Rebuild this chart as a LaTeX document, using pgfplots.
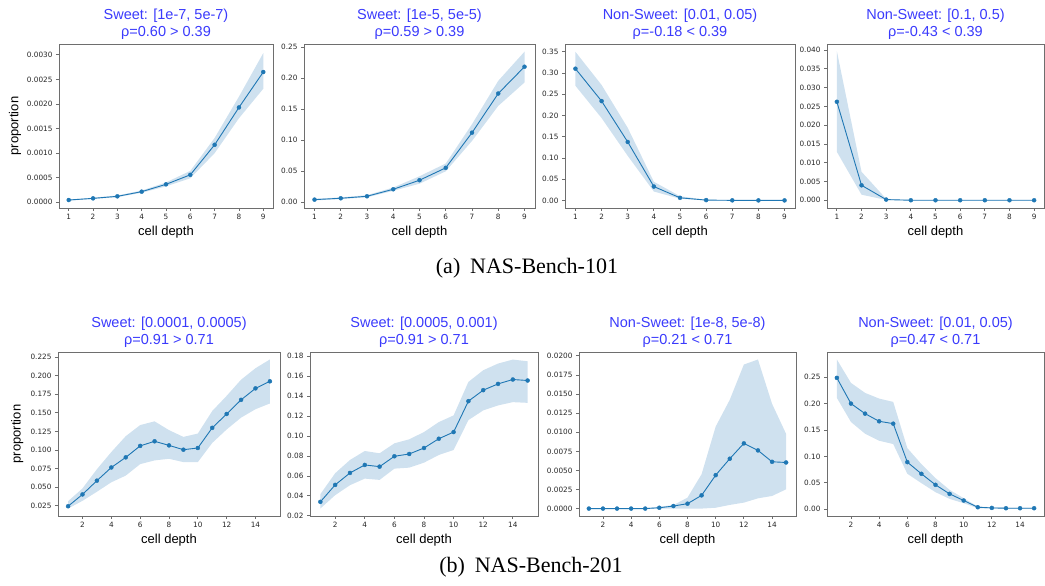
\documentclass[border=0pt]{standalone}
\usepackage{pgfplots}
\pgfplotsset{compat=1.18}
\usepackage{pgfplotstable}
\usepackage{fontspec}
\setmainfont{Liberation Sans}
\newfontfamily\tickfont{DejaVu Sans}
\newfontfamily\capfont{Liberation Serif}

\definecolor{c0}{HTML}{1F77B4}
\definecolor{bandc}{RGB}{207,225,239}
\definecolor{ttl}{RGB}{58,58,252}
\definecolor{spine}{RGB}{110,110,110}

% mean curves
\pgfplotstableread{
x m
1 0.000047
2 0.000081
3 0.000122
4 0.000217
5 0.000366
6 0.000560
7 0.001170
8 0.001930
9 0.002650
}\tA
\pgfplotstableread{
x m
1 0.0043
2 0.0065
3 0.0097
4 0.0210
5 0.0356
6 0.0556
7 0.1123
8 0.1755
9 0.2187
}\tB
\pgfplotstableread{
x m
1 0.3103
2 0.2340
3 0.1377
4 0.0327
5 0.0062
6 0.0008
7 0.0002
8 0.0001
9 0.0001
}\tC
\pgfplotstableread{
x m
1 0.02622
2 0.0040
3 0.0002
4 0.00002
5 0.00002
6 0.00002
7 0.00002
8 0.00002
9 0.00002
}\tD
\pgfplotstableread{
x m
1 0.0245
2 0.0404
3 0.0589
4 0.0766
5 0.0902
6 0.1056
7 0.1118
8 0.1063
9 0.1005
10 0.1028
11 0.1299
12 0.1485
13 0.1675
14 0.1829
15 0.1924
}\tE
\pgfplotstableread{
x m
1 0.0340
2 0.0510
3 0.0630
4 0.0710
5 0.0693
6 0.0797
7 0.0820
8 0.0880
9 0.0973
10 0.1040
11 0.1350
12 0.1460
13 0.1523
14 0.1567
15 0.1557
}\tF
\pgfplotstableread{
x m
1 0.00002
2 0.00002
3 0.00002
4 0.00002
5 0.00002
6 0.00013
7 0.00035
8 0.00066
9 0.00175
10 0.00439
11 0.00654
12 0.00855
13 0.00763
14 0.00614
15 0.00605
}\tG
\pgfplotstableread{
x m
1 0.2487
2 0.2000
3 0.1810
4 0.1665
5 0.1620
6 0.0892
7 0.0671
8 0.0462
9 0.0291
10 0.0165
11 0.0038
12 0.0025
13 0.0019
14 0.0019
15 0.0019
}\tH

% confidence bands: upper edge left to right, then lower edge right to left
\pgfplotstableread{
x y
1 0.000058
2 0.000094
3 0.000140
4 0.000240
5 0.000405
6 0.000640
7 0.001310
8 0.002150
9 0.003035
9 0.002310
8 0.001710
7 0.001000
6 0.000490
5 0.000325
4 0.000195
3 0.000105
2 0.000068
1 0.000035
}\bA
\pgfplotstableread{
x y
1 0.0056
2 0.0079
3 0.0115
4 0.0238
5 0.0420
6 0.0626
7 0.1260
8 0.1960
9 0.2430
9 0.1933
8 0.1555
7 0.0990
6 0.0500
5 0.0300
4 0.0185
3 0.0080
2 0.0052
1 0.0030
}\bB
\pgfplotstableread{
x y
1 0.3500
2 0.2720
3 0.1710
4 0.0440
5 0.0100
6 0.0013
7 0.0004
8 0.0002
9 0.0002
9 0.0000
8 0.0000
7 0.0001
6 0.0004
5 0.0040
4 0.0210
3 0.1050
2 0.1940
1 0.2700
}\bC
\pgfplotstableread{
x y
1 0.0397
2 0.0076
3 0.0004
4 0.00005
5 0.00005
6 0.00005
7 0.00005
8 0.00005
9 0.00005
9 0.0
8 0.0
7 0.0
6 0.0
5 0.0
4 0.0
3 0.0001
2 0.0015
1 0.0129
}\bD
\pgfplotstableread{
x y
1 0.0313
2 0.0485
3 0.0743
4 0.0974
5 0.1187
6 0.1336
7 0.1386
8 0.1268
9 0.1177
10 0.1222
11 0.1525
12 0.1729
13 0.1946
14 0.2100
15 0.2218
15 0.1626
14 0.1549
13 0.1436
12 0.1277
11 0.1096
10 0.0838
9 0.0838
8 0.0883
7 0.0861
6 0.0811
5 0.0657
4 0.0567
3 0.0440
2 0.0318
1 0.0214
}\bE
\pgfplotstableread{
x y
1 0.0417
2 0.0627
3 0.0760
4 0.0850
5 0.0827
6 0.0927
7 0.0967
8 0.1040
9 0.1140
10 0.1207
11 0.1543
12 0.1660
13 0.1727
14 0.1767
15 0.1750
15 0.1333
14 0.1340
13 0.1307
12 0.1257
11 0.1160
10 0.0860
9 0.0810
8 0.0733
7 0.0683
6 0.0673
5 0.0560
4 0.0573
3 0.0507
2 0.0407
1 0.0273
}\bF
\pgfplotstableread{
x y
1 0.00006
2 0.00006
3 0.00006
4 0.00006
5 0.00008
6 0.00026
7 0.00048
8 0.00145
9 0.00452
10 0.01075
11 0.01425
12 0.01886
13 0.01952
14 0.01373
15 0.00978
15 0.00254
14 0.00167
13 0.00136
12 0.00080
11 0.00050
10 0.00013
9 0.00002
8 0.00002
7 0.00002
6 0.00002
5 0.0
4 0.0
3 0.0
2 0.0
1 0.0
}\bG
\pgfplotstableread{
x y
1 0.2835
2 0.2392
3 0.2203
4 0.2095
5 0.2032
6 0.1158
7 0.0854
8 0.0589
9 0.0367
10 0.0209
11 0.0051
12 0.0038
13 0.0032
14 0.0032
15 0.0032
15 0.0013
14 0.0013
13 0.0013
12 0.0013
11 0.0019
10 0.0114
9 0.0196
8 0.0323
7 0.0494
6 0.0671
5 0.1234
4 0.1297
3 0.1430
2 0.1652
1 0.2108
}\bH

\pgfplotsset{
 panel/.style={
  scale only axis, height=164pt,
  axis line style={spine, line width=0.8pt},
  tick style={spine, line width=0.8pt},
  tick align=outside, tick pos=left, major tick length=3pt,
  /pgf/number format/assume math mode=true,
  tick label style={font=\tickfont\fontsize{7.3}{8}\selectfont, text=black!85},
  scaled y ticks=false, scaled x ticks=false,
  title style={align=center, font=\fontsize{14.5}{17}\selectfont, text=ttl, at={(0.5,1)}, anchor=south, inner sep=0pt, yshift=-2pt},
  xlabel={cell depth},
  xlabel style={font=\fontsize{13}{15}\selectfont, at={(axis description cs:0.5,0)}, anchor=center, yshift=-24pt},
  ylabel style={font=\fontsize{13}{15}\selectfont},
 },
 toprow/.style={panel, xmin=0.6, xmax=9.4, xtick={1,2,3,4,5,6,7,8,9},
   xticklabels={1,2,3,4,5,6,7,8,9}},
 botrow/.style={panel, xmin=0.3, xmax=15.7, xtick={2,4,6,8,10,12,14},
   xticklabels={2,4,6,8,10,12,14}},
}

\newcommand{\series}[2]{%
  \addplot[fill=bandc, draw=none, forget plot] table[x=x,y=y]{#2};
  \addplot[c0, line width=0.9pt, mark=*, mark size=2pt, mark options={solid, fill=c0, draw=c0, line width=0.4pt}] table[x=x,y=m]{#1};
}

\begin{document}
\begin{tikzpicture}
\useasboundingbox (0,0) rectangle (1045pt,586pt);

% ---- top row ----
\begin{axis}[toprow, at={(59pt,378pt)}, anchor=south west, width=214pt,
  ymin=-0.000115, ymax=0.00322,
  ytick={0,0.0005,0.001,0.0015,0.002,0.0025,0.003},
  yticklabels={0.0000,0.0005,0.0010,0.0015,0.0020,0.0025,0.0030},
  title={Sweet: [1e-7, 5e-7)\\ρ=0.60 > 0.39},
  ylabel={proportion},
  ylabel style={at={(axis description cs:-0.206,0.5)}, anchor=center}]
\series{\tA}{\bA}
\end{axis}

\begin{axis}[toprow, at={(304pt,378pt)}, anchor=south west, width=231pt,
  ymin=-0.0092, ymax=0.2554,
  ytick={0,0.05,0.1,0.15,0.2,0.25},
  yticklabels={0.00,0.05,0.10,0.15,0.20,0.25},
  title={Sweet: [1e-5, 5e-5)\\ρ=0.59 > 0.39}]
\series{\tB}{\bB}
\end{axis}

\begin{axis}[toprow, at={(565pt,378pt)}, anchor=south west, width=230pt,
  ymin=-0.0178, ymax=0.3685,
  ytick={0,0.05,0.1,0.15,0.2,0.25,0.3,0.35},
  yticklabels={0.00,0.05,0.10,0.15,0.20,0.25,0.30,0.35},
  title={Non-Sweet: [0.01, 0.05)\\ρ=-0.18 < 0.39}]
\series{\tC}{\bC}
\end{axis}

\begin{axis}[toprow, at={(827pt,378pt)}, anchor=south west, width=217pt,
  ymin=-0.00204, ymax=0.0416,
  ytick={0,0.005,0.01,0.015,0.02,0.025,0.03,0.035,0.04},
  yticklabels={0.000,0.005,0.010,0.015,0.020,0.025,0.030,0.035,0.040},
  title={Non-Sweet: [0.1, 0.5)\\ρ=-0.43 < 0.39}]
\series{\tD}{\bD}
\end{axis}

% ---- bottom row ----
\begin{axis}[botrow, at={(58pt,70pt)}, anchor=south west, width=222pt,
  ymin=0.0114, ymax=0.2318,
  ytick={0.025,0.05,0.075,0.1,0.125,0.15,0.175,0.2,0.225},
  yticklabels={0.025,0.050,0.075,0.100,0.125,0.150,0.175,0.200,0.225},
  title={Sweet: [0.0001, 0.0005)\\ρ=0.91 > 0.71},
  ylabel={proportion},
  ylabel style={at={(axis description cs:-0.183,0.5)}, anchor=center}]
\series{\tE}{\bE}
\end{axis}

\begin{axis}[botrow, at={(310pt,70pt)}, anchor=south west, width=228pt,
  ymin=0.0198, ymax=0.1843,
  ytick={0.02,0.04,0.06,0.08,0.1,0.12,0.14,0.16,0.18},
  yticklabels={0.02,0.04,0.06,0.08,0.10,0.12,0.14,0.16,0.18},
  title={Sweet: [0.0005, 0.001)\\ρ=0.91 > 0.71}]
\series{\tF}{\bF}
\end{axis}

\begin{axis}[botrow, at={(579pt,70pt)}, anchor=south west, width=217pt,
  ymin=-0.00095, ymax=0.0205,
  ytick={0,0.0025,0.005,0.0075,0.01,0.0125,0.015,0.0175,0.02},
  yticklabels={0.0000,0.0025,0.0050,0.0075,0.0100,0.0125,0.0150,0.0175,0.0200},
  title={Non-Sweet: [1e-8, 5e-8)\\ρ=0.21 < 0.71}]
\series{\tG}{\bG}
\end{axis}

\begin{axis}[botrow, at={(827pt,70pt)}, anchor=south west, width=217pt,
  ymin=-0.0128, ymax=0.2977,
  ytick={0,0.05,0.1,0.15,0.2,0.25},
  yticklabels={0.00,0.05,0.10,0.15,0.20,0.25},
  title={Non-Sweet: [0.01, 0.05)\\ρ=0.47 < 0.71}]
\series{\tH}{\bH}
\end{axis}

\node[font=\capfont\fontsize{22}{26}\selectfont, anchor=center] at (527pt,318pt) {(a)\hspace{0.45em}NAS-Bench-101};
\node[font=\capfont\fontsize{22}{26}\selectfont, anchor=center] at (531pt,19pt) {(b)\hspace{0.45em}NAS-Bench-201};
\end{tikzpicture}
\end{document}
